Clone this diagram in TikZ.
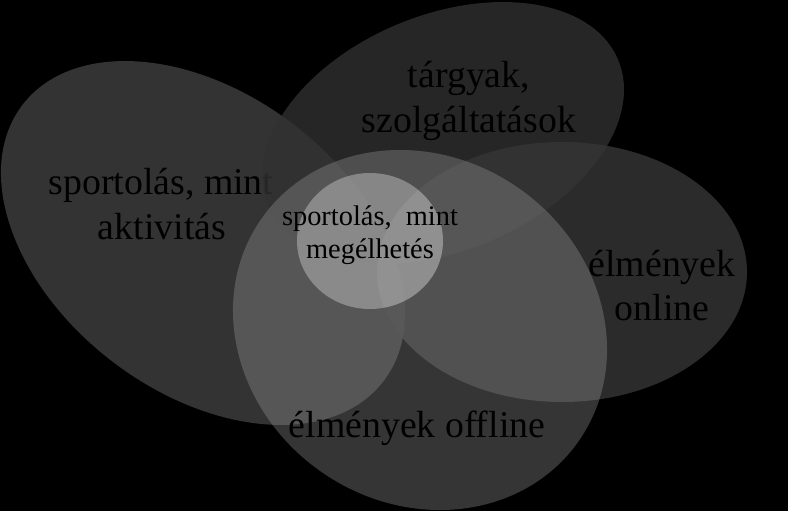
\documentclass[tikz,border=0pt]{standalone}
\usepackage{fontspec}
\setmainfont{Liberation Serif}
\definecolor{fillL}{gray}{0.2}
\definecolor{fillT}{gray}{0.192}
\definecolor{fillN}{gray}{0.211}
\definecolor{fillO}{gray}{0.604}
\definecolor{fillC}{gray}{0.708}
\newcommand\bigtxt{\fontsize{37.8}{45}\selectfont}
\newcommand\smalltxt{\fontsize{28.4}{33}\selectfont}
\tikzset{
  blobL/.style={fill=fillL},
  blobT/.style={fill=fillT, fill opacity=0.78},
  blobN/.style={fill=fillN, fill opacity=0.8},
  blobO/.style={fill=fillO, fill opacity=0.35},
  blobC/.style={fill=fillC, fill opacity=0.55},
  sheen/.style={fill=white, fill opacity=0.06},
  biglbl/.style={anchor=base, inner sep=0pt, text=black, font=\bigtxt},
  smalllbl/.style={anchor=base, inner sep=0pt, text=black, font=\smalltxt},
}
\begin{document}
\begin{tikzpicture}[x=1pt,y=-1pt]
\fill[black] (0,0) rectangle (788,511);
\useasboundingbox (0,0) rectangle (788,511);
% left ellipse
\path[blobL, rotate around={-37.4:(203,243)}] (203,243) ellipse [x radius=227.3pt, y radius=149.2pt];
\node[biglbl] (l1a) at (161,194) {sportolás, mint};
\node[biglbl] (l1b) at (162,239) {aktivitás};
% targyak ellipse
\path[blobT, rotate around={22.6:(443,133)}] (443,133) ellipse [x radius=189.8pt, y radius=117.8pt];
\node[biglbl] (l2a) at (469,88) {tárgyak,};
\node[biglbl] (l2b) at (469,132) {szolgáltatások};
% online ellipse
\path[blobN] (562,272) ellipse [x radius=185pt, y radius=130pt];
\node[biglbl] (l3a) at (662,276) {élmények};
\node[biglbl] (l3b) at (662,320) {online};
% offline ellipse
\path[blobO, rotate around={-35.2:(420,330)}] (420,330) ellipse [x radius=193.7pt, y radius=172.8pt];
\node[biglbl] (l4) at (417,437) {élmények offline};
% centre ellipse
\path[blobC] (370,241) ellipse [x radius=73pt, y radius=68pt];
\begin{scope}
  \clip (370,241) ellipse [x radius=73pt, y radius=68pt];
  \path[sheen] (562,272) ellipse [x radius=185pt, y radius=130pt];
\end{scope}
\node[smalllbl] (l5a) at (370,225) {sportolás,~ mint};
\node[smalllbl] (l5b) at (370,258) {megélhetés};
\end{tikzpicture}
\end{document}
